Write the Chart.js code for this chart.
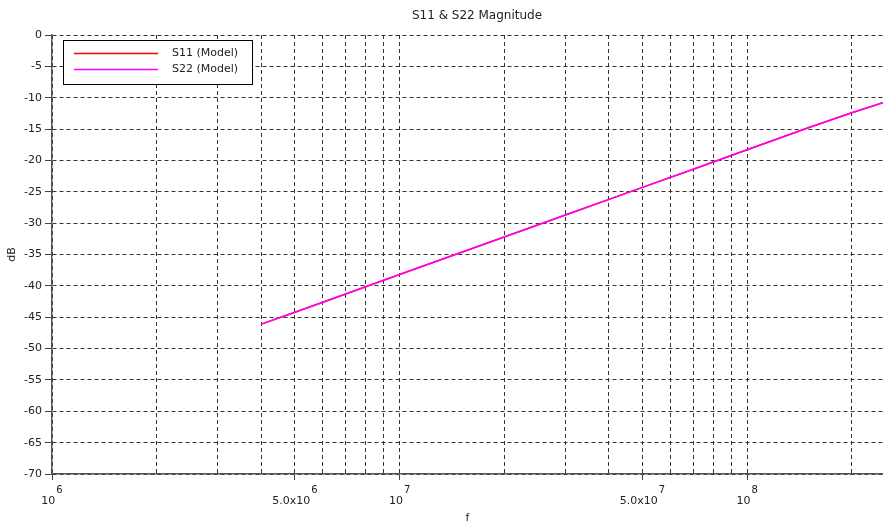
<!DOCTYPE html>
<html>
<head>
<meta charset="utf-8">
<script src="https://cdn.jsdelivr.net/npm/chart.js@4/dist/chart.umd.min.js"></script>
<style>
  html, body { margin: 0; padding: 0; background: #fff; }
  #wrap { width: 883px; height: 525px; position: relative; }
</style>
</head>
<body>
<div id="wrap"><canvas id="chart"></canvas></div>
<script>
// values
const freqHz = [4e6, 5e6, 7e6, 1e7, 2e7, 3e7, 5e7, 7e7, 1e8, 1.5e8, 2e8, 2.46e8];
const s11Db = [-46.1, -44.2, -41.3, -38.2, -32.2, -28.7, -24.3, -21.4, -18.3, -14.8, -12.4, -10.8];
const s22Db = [-46.1, -44.2, -41.3, -38.2, -32.2, -28.7, -24.3, -21.4, -18.3, -14.8, -12.4, -10.8];
const seriesNames = ['S11 (Model)', 'S22 (Model)'];
const seriesColors = ['#ff0000', '#ff00ff'];

// vertical grid lines (1..9 per decade) and the labelled ones
const xGridValues = [1e6, 2e6, 3e6, 4e6, 5e6, 6e6, 7e6, 8e6, 9e6,
                     1e7, 2e7, 3e7, 4e7, 5e7, 6e7, 7e7, 8e7, 9e7,
                     1e8, 2e8];
const xLabelValues = [1e6, 5e6, 1e7, 5e7, 1e8];
const xLabelBase = ['10', '5.0x10', '10', '5.0x10', '10'];
const xLabelExp = ['6', '6', '7', '7', '8'];

const FONT = "'DejaVu Sans', sans-serif";
const TEXT = '#222';
const GRID = '#333';

function toPoints(xs, ys) {
    return xs.map((x, i) => ({ x, y: ys[i] }));
}

// title is off-centre in the reference, so draw it by hand
const titlePlugin = {
    id: 'plotTitle',
    afterDraw(chart) {
        const ctx = chart.ctx;
        ctx.save();
        ctx.font = `12px ${FONT}`;
        ctx.fillStyle = TEXT;
        ctx.textAlign = 'center';
        ctx.textBaseline = 'middle';
        ctx.fillText('S11 & S22 Magnitude', 477, 16);
        ctx.restore();
    },
};

// x tick labels with superscript exponents
const expLabels = {
    id: 'expLabels',
    afterDraw(chart) {
        const ctx = chart.ctx;
        const scale = chart.scales.x;
        ctx.save();
        ctx.fillStyle = TEXT;
        ctx.textAlign = 'left';
        ctx.textBaseline = 'alphabetic';
        xLabelValues.forEach((v, i) => {
            const px = scale.getPixelForValue(v);
            ctx.font = `11px ${FONT}`;
            const wb = ctx.measureText(xLabelBase[i]).width;
            ctx.font = `10px ${FONT}`;
            const we = ctx.measureText(xLabelExp[i]).width;
            const x0 = px - (wb + 1 + we) / 2;
            ctx.font = `11px ${FONT}`;
            ctx.fillText(xLabelBase[i], x0, 504);
            ctx.font = `10px ${FONT}`;
            ctx.fillText(xLabelExp[i], x0 + wb + 1, 493);
        });
        ctx.restore();
    },
};

// boxed legend inside the plot
const boxLegend = {
    id: 'boxLegend',
    afterDatasetsDraw(chart) {
        const ctx = chart.ctx;
        ctx.save();
        ctx.setLineDash([]);
        ctx.fillStyle = '#fff';
        ctx.fillRect(63, 40, 189, 44);
        ctx.strokeStyle = '#000';
        ctx.lineWidth = 1;
        ctx.strokeRect(63.5, 40.5, 189, 44);
        ctx.font = `11px ${FONT}`;
        ctx.textBaseline = 'middle';
        seriesNames.forEach((name, i) => {
            const y = 53.5 + i * 16;
            ctx.strokeStyle = seriesColors[i];
            ctx.lineWidth = 1.5;
            ctx.beginPath();
            ctx.moveTo(74, y);
            ctx.lineTo(158, y);
            ctx.stroke();
            ctx.fillStyle = TEXT;
            ctx.fillText(name, 172, y);
        });
        ctx.restore();
    },
};

const ctx = document.getElementById('chart').getContext('2d');
new Chart(ctx, {
    type: 'line',
    data: {
        datasets: [
            {
                label: seriesNames[0],
                data: toPoints(freqHz, s11Db),
                borderColor: seriesColors[0],
                borderWidth: 1.5,
                pointRadius: 0,
                order: 2,
            },
            {
                label: seriesNames[1],
                data: toPoints(freqHz, s22Db),
                borderColor: seriesColors[1],
                borderWidth: 1.5,
                pointRadius: 0,
                order: 1,
            },
        ],
    },
    options: {
        responsive: true,
        maintainAspectRatio: false,
        animation: false,
        layout: { padding: { top: 35, right: 0, bottom: 0, left: 0 } },
        plugins: {
            legend: { display: false },
            title: { display: false },
            tooltip: { enabled: false },
        },
        scales: {
            x: {
                type: 'logarithmic',
                min: 1e6,
                max: 2.46e8,
                afterBuildTicks: s => { s.ticks = xGridValues.map(v => ({ value: v })); },
                afterFit: s => { s.height = 51; },
                ticks: { display: false, autoSkip: false },
                grid: {
                    color: GRID,
                    lineWidth: 1,
                    drawTicks: true,
                    tickLength: 6,
                    tickColor: c => xLabelValues.includes(c.tick && c.tick.value) ? '#444' : 'rgba(0,0,0,0)',
                },
                border: { display: true, color: '#555', width: 1.5, dash: [4, 3] },
                title: {
                    display: true,
                    text: 'f',
                    color: TEXT,
                    font: { family: FONT, size: 11 },
                    padding: { top: 0, bottom: 0 },
                },
            },
            y: {
                type: 'linear',
                min: -70,
                max: 0,
                afterFit: s => { s.width = 52; },
                ticks: {
                    stepSize: 5,
                    padding: 3,
                    color: TEXT,
                    font: { family: FONT, size: 11 },
                },
                grid: {
                    color: GRID,
                    lineWidth: 1,
                    drawTicks: true,
                    tickLength: 7,
                    tickColor: '#444',
                },
                border: { display: true, color: '#555', width: 1.5, dash: [4, 3] },
                title: {
                    display: true,
                    text: 'dB',
                    color: TEXT,
                    font: { family: FONT, size: 11 },
                    padding: { top: 6, bottom: 0 },
                },
            },
        },
    },
    plugins: [titlePlugin, expLabels, boxLegend],
});
</script>
</body>
</html>
